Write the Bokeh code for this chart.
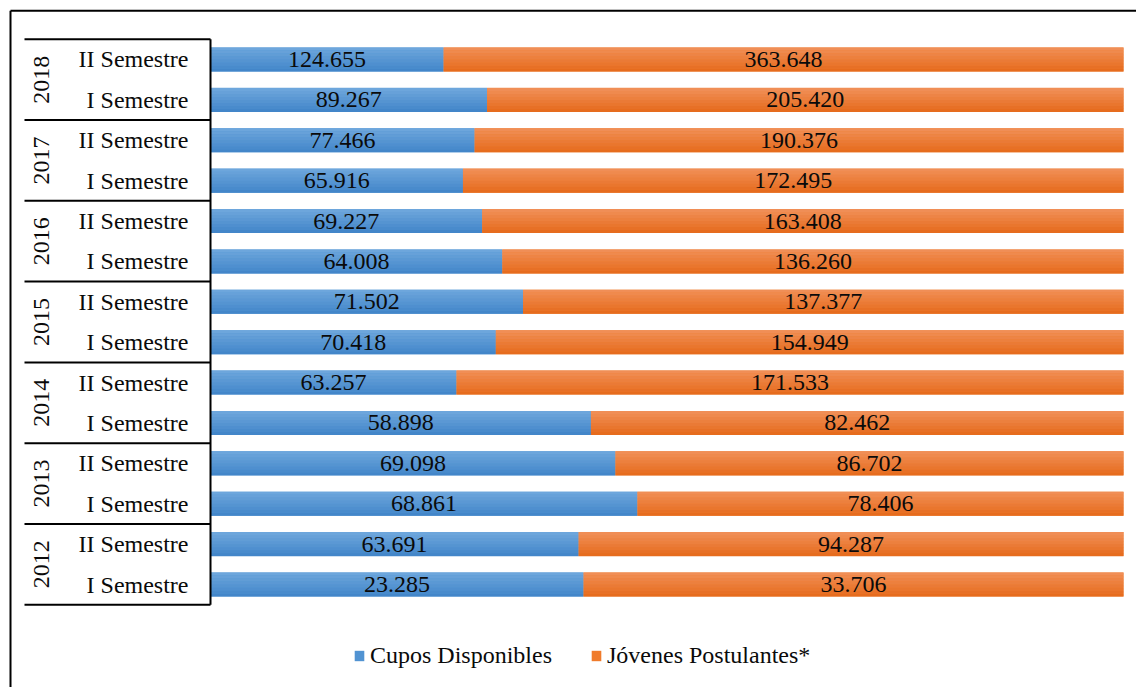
from bokeh.plotting import figure
from bokeh.models import ColumnDataSource, Range1d, Legend, LegendItem
from bokeh.transform import dodge
from bokeh.core.properties import value
from bokeh.embed import file_html
from bokeh.resources import INLINE
import math

# ---- data (bottom to top) ----
years = ["2012", "2013", "2014", "2015", "2016", "2017", "2018"]
semesters = ["I Semestre", "II Semestre"]
cupos = [23285, 63691, 68861, 69098, 58898, 63257, 70418, 71502, 64008, 69227, 65916, 77466, 89267, 124655]
postulantes = [33706, 94287, 78406, 86702, 82462, 171533, 154949, 137377, 136260, 163408, 172495, 190376, 205420, 363648]
series_names = ["Cupos Disponibles", "Jóvenes Postulantes*"]

FONT = "Liberation Serif"
FS = "24px"

def fmt(v):
    return f"{v:,}".replace(",", ".")

n = len(cupos)
ys = list(range(n))
tot = [c + q for c, q in zip(cupos, postulantes)]
fc = [c / t for c, t in zip(cupos, tot)]
src = ColumnDataSource(dict(
    y=ys,
    b_left=[0.0] * n, b_right=fc,
    o_left=fc, o_right=[1.0] * n,
    b_mid=[f / 2 for f in fc], o_mid=[(f + 1) / 2 for f in fc],
    b_lab=[fmt(v) for v in cupos], o_lab=[fmt(v) for v in postulantes],
    sem=[semesters[i % 2] for i in ys],
))

W, H = 1136, 687
px_x = 913.0          # pixels per unit on x
px_y = 40.385         # pixels per row
x0 = -210.0 / px_x
y0 = -(H - 584.0) / px_y
p = figure(width=W, height=H, output_backend="svg", toolbar_location=None,
           x_range=Range1d(x0, x0 + W / px_x), y_range=Range1d(y0, y0 + H / px_y),
           min_border=0, outline_line_color=None)
p.axis.visible = False
p.grid.visible = False
p.background_fill_color = "white"

h = 24.0 / px_y
blue_mid, orange_mid = "#5193d2", "#f07b2b"
rb = p.hbar(y="y", height=h, left="b_left", right="b_right", source=src,
            fill_color=blue_mid, line_color=None)
ro = p.hbar(y="y", height=h, left="o_left", right="o_right", source=src,
            fill_color=orange_mid, line_color=None)

def lerp(c1, c2, t):
    return "#%02x%02x%02x" % tuple(int(round(a + (b - a) * t)) for a, b in zip(c1, c2))

N = 8
blue_top, blue_bot = (112, 168, 221), (64, 132, 200)
or_top, or_bot = (241, 145, 90), (229, 105, 26)
for k in range(N):
    t = (k + 0.5) / N
    off = -h / 2 + t * h
    p.hbar(y=dodge("y", off), height=h / N + 0.002, left="b_left", right="b_right", source=src,
           fill_color=lerp(blue_bot, blue_top, t), line_color=None)
    p.hbar(y=dodge("y", off), height=h / N + 0.002, left="o_left", right="o_right", source=src,
           fill_color=lerp(or_bot, or_top, t), line_color=None)

# value labels
for xcol, lcol in (("b_mid", "b_lab"), ("o_mid", "o_lab")):
    p.text(x=xcol, y="y", text=lcol, source=src, text_align="center", text_baseline="middle",
           text_font=value(FONT), text_font_size=FS, text_color="#0a0a0a")

# semester labels
p.text(x=-22.0 / px_x, y="y", text="sem", source=src, text_align="right", text_baseline="middle",
       text_font=value(FONT), text_font_size=FS, text_color="#0a0a0a")

# year labels
ysrc = ColumnDataSource(dict(x=[-169.0 / px_x] * len(years), y=[2 * i + 0.5 for i in range(len(years))], t=years))
p.text(x="x", y="y", text="t", source=ysrc, angle=math.pi / 2, text_align="center", text_baseline="middle",
       text_font=value(FONT), text_font_size=FS, text_color="#0a0a0a")

# group separator lines
gl = [2 * i - 0.5 for i in range(len(years) + 1)]
p.segment(x0=[-186.0 / px_x] * len(gl), x1=[0] * len(gl), y0=gl, y1=gl, line_color="#000000", line_width=2)
p.segment(x0=[0], x1=[0], y0=[gl[0]], y1=[gl[-1]], line_color="#000000", line_width=2)

# chart border (left and top, visible part)
bx = x0 + 10.0 / px_x
by = y0 + (H - 10.3) / px_y
p.segment(x0=[bx, bx], x1=[bx, x0 + W / px_x], y0=[y0, by], y1=[by, by], line_color="#000000", line_width=2)

legend = Legend(items=[LegendItem(label=series_names[0], renderers=[rb]),
                       LegendItem(label=series_names[1], renderers=[ro])],
                orientation="horizontal", location=(353, 18),
                glyph_width=12, glyph_height=13, label_standoff=5, spacing=38,
                padding=0, margin=0, border_line_color=None, background_fill_alpha=0,
                label_text_font=FONT, label_text_font_size=FS, label_text_color="#0a0a0a")
p.add_layout(legend, "center")

open("out.html", "w").write(file_html(p, INLINE))
